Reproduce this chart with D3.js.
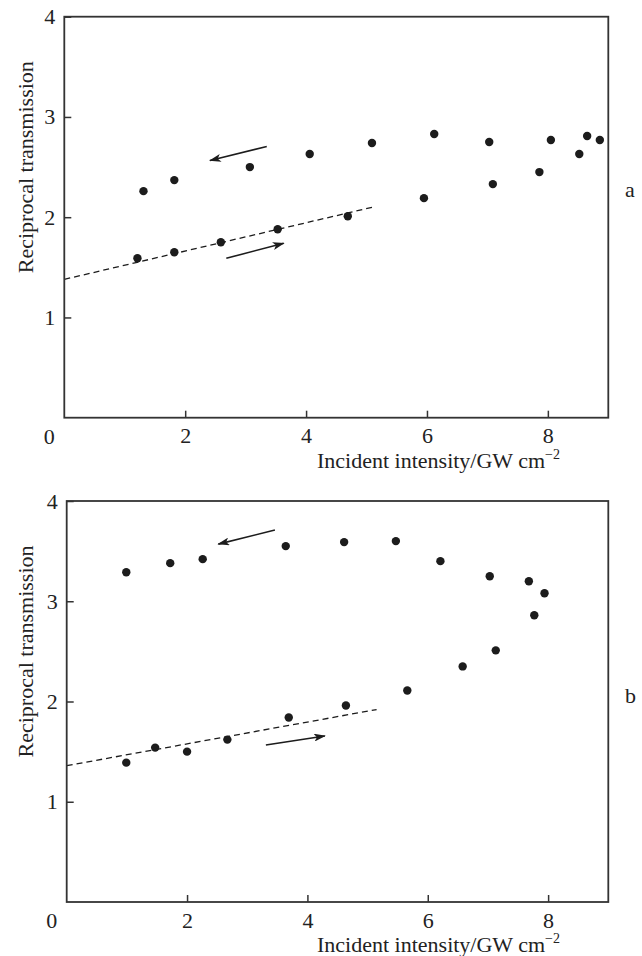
<!DOCTYPE html>
<html>
<head>
<meta charset="utf-8">
<script src="https://cdn.jsdelivr.net/npm/d3@7"></script>
<style>
  body { margin: 0; background: #fff; }
  text { font-family: "Liberation Serif", "Times New Roman", serif; fill: #222; }
</style>
</head>
<body>
<div class="mainCont"></div>
<script>
// axis ticks (shared by both panels)
var xTicks = [2, 4, 6, 8];
var yTicks = [1, 2, 3, 4];

// panel a: measured points, [intensity, reciprocal transmission]
var aRising = [[1.21, 1.59], [1.82, 1.65], [2.59, 1.75], [3.53, 1.88], [4.69, 2.01],
               [5.95, 2.19], [7.09, 2.33], [7.86, 2.45], [8.52, 2.63], [8.86, 2.77]];
var aFalling = [[8.65, 2.81], [8.05, 2.77], [7.03, 2.75], [6.12, 2.83], [5.09, 2.74],
                [4.06, 2.63], [3.07, 2.50], [1.82, 2.37], [1.31, 2.26]];
var aFit = [[0, 1.38], [5.1, 2.10]];
var aArrows = [[[3.35, 2.705], [2.41, 2.565]], [[2.68, 1.59], [3.63, 1.74]]];

// panel b
var bRising = [[0.99, 1.39], [1.47, 1.54], [2.0, 1.50], [2.67, 1.62], [3.69, 1.84],
               [4.64, 1.96], [5.66, 2.11], [6.58, 2.35], [7.13, 2.51], [7.77, 2.86]];
var bFalling = [[7.94, 3.08], [7.68, 3.20], [7.03, 3.25], [6.21, 3.40], [5.47, 3.60],
                [4.61, 3.59], [3.64, 3.55], [2.26, 3.42], [1.72, 3.38], [0.99, 3.29]];
var bFit = [[0, 1.36], [5.15, 1.92]];
var bArrows = [[[3.46, 3.71], [2.52, 3.57]], [[3.31, 1.566], [4.29, 1.656]]];

var width = 642, height = 956;
var ink = "#1c1c1c";

var svg = d3.select(".mainCont").append("svg")
    .attr("width", width)
    .attr("height", height);

var defs = svg.append("defs");
defs.append("marker")
    .attr("id", "head")
    .attr("viewBox", "0 0 12 8")
    .attr("refX", 11)
    .attr("refY", 4)
    .attr("markerWidth", 12)
    .attr("markerHeight", 8)
    .attr("markerUnits", "userSpaceOnUse")
    .attr("orient", "auto")
    .append("path")
    .attr("d", "M0,0 L12,4 L0,8 L3,4 Z")
    .style("fill", ink);

function panel(box, rising, falling, fit, arrows, tag) {
    var x = d3.scaleLinear().domain([0, 9]).range([box.left, box.right]);
    var y = d3.scaleLinear().domain([0, 4]).range([box.bottom, box.top]);
    var g = svg.append("g");

    // dashed fit line
    g.append("path")
        .datum(fit)
        .attr("d", d3.line().x(function(d) { return x(d[0]); }).y(function(d) { return y(d[1]); }))
        .style("fill", "none")
        .style("stroke", ink)
        .style("stroke-width", 1.3)
        .style("stroke-dasharray", "6,4");

    // axes, ticks pointing inward
    var xAxis = d3.axisBottom(x).tickValues(xTicks).tickFormat(d3.format("d"))
        .tickSizeInner(-7).tickSizeOuter(0).tickPadding(10);
    var yAxis = d3.axisLeft(y).tickValues(yTicks).tickFormat(d3.format("d"))
        .tickSizeInner(-7).tickSizeOuter(0).tickPadding(9);

    var gx = g.append("g").attr("transform", "translate(0," + box.bottom + ")").call(xAxis);
    var gy = g.append("g").attr("transform", "translate(" + box.left + ",0)").call(yAxis);
    [gx, gy].forEach(function(a) {
        a.select(".domain").remove();
        a.selectAll("line").style("stroke", "#333").style("stroke-width", 1.5);
        a.selectAll("text").style("font-size", "22px").style("fill", "#222")
            .style("font-family", "'Liberation Serif', serif");
    });

    // frame
    g.append("rect")
        .attr("x", box.left).attr("y", box.top)
        .attr("width", box.right - box.left)
        .attr("height", box.bottom - box.top)
        .style("fill", "none")
        .style("stroke", "#333")
        .style("stroke-width", 1.8);

    // origin label
    g.append("text")
        .attr("x", x(0) - 15)
        .attr("y", box.bottom + 26)
        .attr("text-anchor", "middle")
        .style("font-size", "22px")
        .text("0");

    // points
    g.selectAll("circle.pt")
        .data(rising.concat(falling))
        .enter().append("circle")
        .attr("class", "pt")
        .attr("cx", function(d) { return x(d[0]); })
        .attr("cy", function(d) { return y(d[1]); })
        .attr("r", 4.2)
        .style("fill", ink);

    // direction arrows
    g.selectAll("line.arrow")
        .data(arrows)
        .enter().append("line")
        .attr("class", "arrow")
        .attr("x1", function(d) { return x(d[0][0]); })
        .attr("y1", function(d) { return y(d[0][1]); })
        .attr("x2", function(d) { return x(d[1][0]); })
        .attr("y2", function(d) { return y(d[1][1]); })
        .style("stroke", ink)
        .style("stroke-width", 1.6)
        .attr("marker-end", "url(#head)");

    // axis titles
    g.append("text")
        .attr("transform", "translate(33," + (box.top + box.bottom - 100) / 2 + ") rotate(-90)")
        .attr("text-anchor", "middle")
        .style("font-size", "22px")
        .text("Reciprocal transmission");

    var xt = g.append("text")
        .attr("x", 317)
        .attr("y", box.bottom + 50)
        .style("font-size", "22px");
    xt.append("tspan").text("Incident intensity/GW cm");
    xt.append("tspan").attr("dy", -9).style("font-size", "14px").text("\u22122");

    // panel tag
    g.append("text")
        .attr("x", 625)
        .attr("y", tag.y)
        .style("font-size", "22px")
        .text(tag.label);
}

panel({left: 64.3, right: 608.3, top: 16.7, bottom: 417.7}, aRising, aFalling, aFit, aArrows, {label: "a", y: 197});
panel({left: 66.7, right: 608.3, top: 501, bottom: 902}, bRising, bFalling, bFit, bArrows, {label: "b", y: 703});
</script>
</body>
</html>
